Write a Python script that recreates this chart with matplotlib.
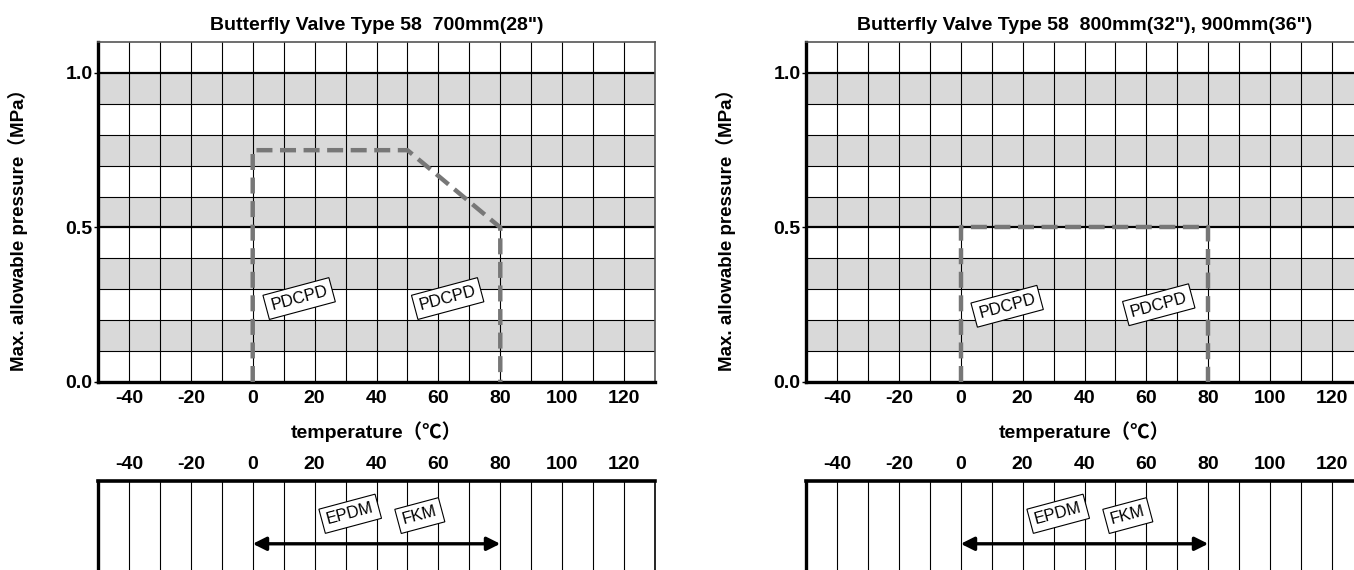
import matplotlib
matplotlib.use("Agg")
import matplotlib.pyplot as plt
from matplotlib import font_manager

# data
titles = ['Butterfly Valve Type 58  700mm(28")',
          'Butterfly Valve Type 58  800mm(32"), 900mm(36")']
temp_700 = [0, 0, 50, 80, 80]
press_700 = [0, 0.75, 0.75, 0.5, 0]
temp_800 = [0, 0, 80, 80]
press_800 = [0, 0.5, 0.5, 0]
seat_range = [0, 80]
disc_labels = ["PDCPD", "PDCPD"]
seat_labels = ["EPDM", "FKM"]
x_ticks = [-40, -20, 0, 20, 40, 60, 80, 100, 120]
y_ticks = [0.0, 0.5, 1.0]

names = {f.name for f in font_manager.fontManager.ttflist}
narrow = "Liberation Sans Narrow" if "Liberation Sans Narrow" in names else "Liberation Sans"
fam = [narrow, "Noto Sans CJK JP", "DejaVu Sans"]
fam_bold = ["Liberation Sans", "Noto Sans CJK JP", "DejaVu Sans"]

W, H = 1354, 570
fig = plt.figure(figsize=(W / 100, H / 100), dpi=100)


def px(x0, y_top, x1, y_bot):
    return [x0 / W, 1 - y_bot / H, (x1 - x0) / W, (y_bot - y_top) / H]


def upper(ax, title, temps, press, disc_pos):
    ax.set_xlim(-50, 130)
    ax.set_ylim(0, 1.1)
    for y0 in [0.1, 0.3, 0.5, 0.7, 0.9]:
        ax.axhspan(y0, y0 + 0.1, color="#d9d9d9", lw=0, zorder=0)
    for x in range(-40, 130, 10):
        ax.axvline(x, color="black", lw=0.8, zorder=1)
    for i in range(1, 11):
        y = i / 10
        ax.axhline(y, color="black", lw=1.6 if i in (5, 10) else 0.8, zorder=1)
    ax.plot(temps, press, color="#777777", lw=3.2, dashes=(3.6, 1.7), zorder=3)
    for (x, y), lab in zip(disc_pos, disc_labels):
        ax.text(x, y, lab, rotation=15, ha="center", va="center", fontsize=12,
                family=fam, zorder=4,
                bbox=dict(boxstyle="square,pad=0.3", fc="white", ec="black", lw=0.8))
    ax.set_xticks(x_ticks)
    ax.set_xticklabels([str(t) for t in x_ticks], family=fam, fontsize=14, fontweight="bold")
    ax.set_yticks(y_ticks)
    ax.set_yticklabels(["0.0", "0.5", "1.0"], family=fam, fontsize=14, fontweight="bold")
    ax.tick_params(axis="x", length=0, pad=6)
    ax.tick_params(axis="y", length=3, width=1, pad=1)
    for s in ["left", "bottom"]:
        ax.spines[s].set_linewidth(2.4)
    for s in ["top", "right"]:
        ax.spines[s].set_linewidth(1.2)
        ax.spines[s].set_color("#555555")
    ax.set_title(title, family=fam, fontsize=14, fontweight="bold", pad=9)
    ax.set_xlabel("temperature（℃）", family=fam, fontsize=14, fontweight="bold", labelpad=10)
    ax.set_ylabel("Max. allowable pressure（MPa）", family=fam_bold, fontsize=13.5,
                  fontweight="bold", va="center")
    ax.yaxis.set_label_coords(-0.143, 0.46)


def lower(ax, seat_pos):
    ax.set_xlim(-50, 130)
    ax.set_ylim(0, 1)
    for x in range(-40, 130, 10):
        ax.axvline(x, color="black", lw=0.8, zorder=1)
    ax.annotate("", xy=(seat_range[1], 0.31), xytext=(seat_range[0], 0.31),
                arrowprops=dict(arrowstyle="<|-|>", color="black", lw=2.4,
                                mutation_scale=20, shrinkA=0, shrinkB=0), zorder=3)
    for (x, y), lab in zip(seat_pos, seat_labels):
        ax.text(x, y, lab, rotation=15, ha="center", va="center", fontsize=12,
                family=fam, zorder=4,
                bbox=dict(boxstyle="square,pad=0.3", fc="white", ec="black", lw=0.8))
    ax.set_xticks(x_ticks)
    ax.set_xticklabels([str(t) for t in x_ticks], family=fam, fontsize=14, fontweight="bold")
    ax.xaxis.tick_top()
    ax.tick_params(axis="x", length=0, pad=6)
    ax.set_yticks([])
    ax.spines["bottom"].set_visible(False)
    ax.spines["top"].set_linewidth(2.6)
    ax.spines["left"].set_linewidth(2.4)
    ax.spines["right"].set_linewidth(1.2)


ax1 = fig.add_axes(px(98, 42, 655, 382))
upper(ax1, titles[0], temp_700, press_700, [(15, 0.27), (63, 0.27)])
ax2 = fig.add_axes(px(806, 42, 1363, 382))
upper(ax2, titles[1], temp_800, press_800, [(15, 0.245), (64, 0.25)])

ax3 = fig.add_axes(px(98, 481, 655, 572))
lower(ax3, [(31.5, 0.64), (54, 0.62)])
ax4 = fig.add_axes(px(806, 481, 1363, 572))
lower(ax4, [(31.5, 0.64), (54, 0.62)])

fig.savefig("out.png", dpi=100)
